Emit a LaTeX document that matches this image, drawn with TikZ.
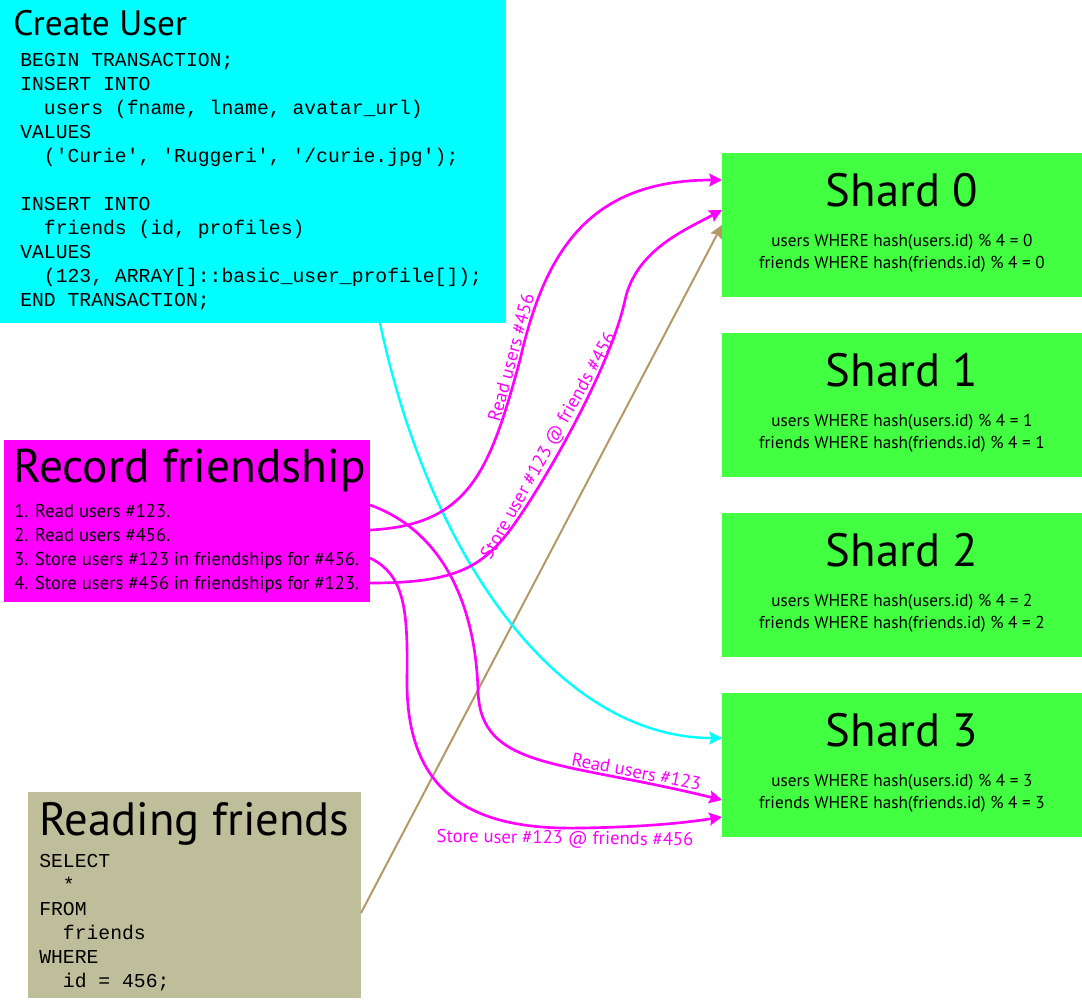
\documentclass[tikz,border=0pt]{standalone}
\usepackage{fontspec}
\setmainfont{PT Sans}
\setmonofont{Liberation Mono}
\usepackage{tikz}
\usetikzlibrary{arrows.meta}

\definecolor{userCyan}{RGB}{0,255,255}
\definecolor{friendMagenta}{RGB}{255,0,255}
\definecolor{shardGreen}{RGB}{66,255,66}
\definecolor{readTan}{RGB}{191,190,155}
\definecolor{lineTan}{RGB}{181,152,104}

\begin{document}
\begin{tikzpicture}[%
    x=0.75pt, y=-0.75pt,
    box/.style={%
        anchor=north west,
        inner sep=0pt,
        outer sep=0pt
    },
    shard/.style={%
        box,
        fill=shardGreen,
        minimum width=270pt,
        minimum height=108pt
    },
    title/.style={%
        anchor=base west,
        inner sep=0pt,
        font=\fontsize{35}{40}\selectfont
    },
    shardTitle/.style={%
        anchor=base,
        inner sep=0pt,
        font=\fontsize{35}{40}\selectfont
    },
    shardText/.style={%
        anchor=base,
        align=center,
        inner sep=0pt,
        font=\fontsize{12.9}{16.5}\selectfont
    },
    code/.style={%
        anchor=base west,
        align=left,
        inner sep=0pt,
        font=\ttfamily\fontsize{14.8}{18}\selectfont
    },
    steps/.style={%
        anchor=base west,
        align=left,
        inner sep=0pt,
        font=\fontsize{14}{17.8}\selectfont
    },
    flowLabel/.style={%
        sloped,
        text=friendMagenta,
        inner sep=1pt,
        font=\fontsize{14}{16}\selectfont
    },
    friendLink/.style={->, draw=friendMagenta, line width=2pt},
    userLink/.style={->, draw=userCyan, line width=1.8pt},
    readLink/.style={->, draw=lineTan, line width=1.5pt},
    >={Stealth[length=9.5pt, width=9.5pt, inset=1.5pt]}
]
\useasboundingbox (0,0) rectangle (1082,1001);

% Create user (multi-line nodes sit on their last baseline)
    \node[box, fill=userCyan, minimum width=379.5pt, minimum height=242.25pt] (createUser) at (0,0) {};
    \node[title, font=\fontsize{26.5}{30}\selectfont] (createUserTitle) at (13,35) {Create User};
    \node[code] (createUserCode) at (20,306) {BEGIN TRANSACTION;\\
        INSERT INTO\\
        \ \ users (fname, lname, avatar\_url)\\
        VALUES\\
        \ \ ('Curie', 'Ruggeri', '/curie.jpg');\\[18pt]
        INSERT INTO\\
        \ \ friends (id, profiles)\\
        VALUES\\
        \ \ (123, ARRAY[]::basic\_user\_profile[]);\\
        END TRANSACTION;};

% Record friendship
    \node[box, fill=friendMagenta, minimum width=274.5pt, minimum height=121.5pt] (recordFriendship) at (4,440) {};
    \node[title, font=\fontsize{35.5}{40}\selectfont] (recordTitle) at (13,482) {Record friendship};
    \node[steps] (recordSteps) at (14,589) {1. Read users \#123.\\
        2. Read users \#456.\\
        3. Store users \#123 in friendships for \#456.\\
        4. Store users \#456 in friendships for \#123.};

% Reading friends
    \node[box, fill=readTan, minimum width=249.75pt, minimum height=154.5pt] (readFriends) at (28,792) {};
    \node[title] (readTitle) at (39,835) {Reading friends};
    \node[code] (readCode) at (39,987) {SELECT\\
        \ \ *\\
        FROM\\
        \ \ friends\\
        WHERE\\
        \ \ id = 456;};

% Shards
    \node[shard] (shard0) at (722,153) {};
    \node[shardTitle] (shardTitle0) at ([yshift=-39.75pt]shard0.north) {Shard 0};
    \node[shardText] (shardText0) at ([yshift=-86.25pt]shard0.north) {users WHERE hash(users.id) \% 4 = 0\\ friends WHERE hash(friends.id) \% 4 = 0};

    \node[shard] (shard1) at (722,333) {};
    \node[shardTitle] (shardTitle1) at ([yshift=-39.75pt]shard1.north) {Shard 1};
    \node[shardText] (shardText1) at ([yshift=-86.25pt]shard1.north) {users WHERE hash(users.id) \% 4 = 1\\ friends WHERE hash(friends.id) \% 4 = 1};

    \node[shard] (shard2) at (722,513) {};
    \node[shardTitle] (shardTitle2) at ([yshift=-39.75pt]shard2.north) {Shard 2};
    \node[shardText] (shardText2) at ([yshift=-86.25pt]shard2.north) {users WHERE hash(users.id) \% 4 = 2\\ friends WHERE hash(friends.id) \% 4 = 2};

    \node[shard] (shard3) at (722,693) {};
    \node[shardTitle] (shardTitle3) at ([yshift=-39.75pt]shard3.north) {Shard 3};
    \node[shardText] (shardText3) at ([yshift=-86.25pt]shard3.north) {users WHERE hash(users.id) \% 4 = 3\\ friends WHERE hash(friends.id) \% 4 = 3};

% Arrows
\draw[readLink] ([yshift=-13.5pt]readFriends.east) -- (shard0.west);

\draw[userLink] ([xshift=95.25pt]createUser.south) .. controls (430,560) and (560,738) .. ([yshift=20.25pt]shard3.west);

\draw[friendLink] ([yshift=-6.75pt]recordFriendship.east) .. controls (470,525) and (490,470) .. (520,360)
    node[flowLabel, pos=1, above] {Read users \#456}
    .. controls (545,250) and (590,180) .. ([yshift=33.75pt]shard0.west);
\draw[friendLink] ([yshift=-46.5pt]recordFriendship.east) .. controls (450,583) and (480,570) .. (510,530)
    .. controls (540,490) and (610,370) .. (625,300)
    node[flowLabel, pos=0.4, above] {Store user \#123 @ friends \#456}
    .. controls (636,250) and (685,230) .. ([yshift=11.25pt]shard0.west);
\draw[friendLink] ([yshift=12pt]recordFriendship.east) .. controls (440,530) and (475,600) .. (478,690)
    .. controls (480,770) and (560,760) .. ([yshift=-26.25pt]shard3.west)
    node[flowLabel, pos=0.8, above] {Read users \#123};
\draw[friendLink] ([yshift=-27.75pt]recordFriendship.east) .. controls (405,575) and (408,610) .. (407,680)
    .. controls (406,800) and (480,830) .. (580,828)
    node[flowLabel, pos=0.95, below] {Store user \#123 @ friends \#456}
    .. controls (650,827) and (690,822) .. ([yshift=-39pt]shard3.west);

\end{tikzpicture}
\end{document}
